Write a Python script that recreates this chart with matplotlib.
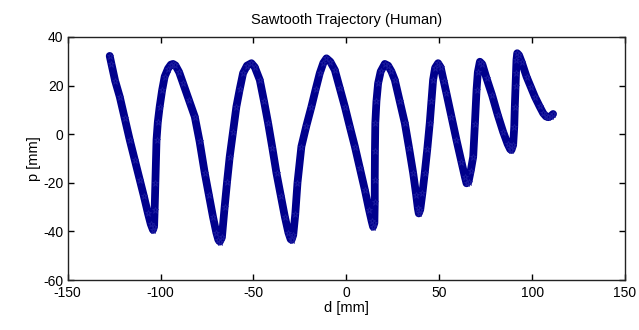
import numpy as np
import matplotlib.pyplot as plt

# 轨迹数据：横向位移 d 与纵向位置 p（单位 mm），按采样顺序排列
d_mm = [
    -127.4, -126.5, -124.5, -122.0, -119.3, -116.6, -113.9, -111.2, -109.0,
    -106.8, -105.3, -104.1, -103.5,
    -103.2, -102.8, -102.2, -101.5, -100.5, -99.2, -97.8, -96.0, -94.5,
    -93.3, -92.0, -90.0,
    -87.9, -84.8, -81.6, -79.0, -76.2, -74.0, -71.8, -70.0, -68.9, -68.1,
    -67.0,
    -65.5, -64.2, -62.8, -61.0, -59.2, -57.4, -55.6, -53.5, -51.1, -49.3,
    -46.6,
    -44.3, -42.1, -39.8, -37.6, -35.3, -33.1, -31.2, -30.0, -29.5, -28.6,
    -27.5, -26.3, -24.2, -21.5, -18.8, -16.5, -14.3, -12.4, -10.7, -8.6,
    -6.2,
    -3.5, -0.8, 1.9, 4.6, 7.3, 10.0, 12.2, 13.6, 14.4, 15.1,
    15.3, 15.3, 15.4, 15.6, 16.2, 17.1, 18.5, 20.7, 22.5, 24.3, 26.1,
    28.8, 31.5, 33.8, 36.0, 37.6, 38.5, 39.0, 39.8,
    41.0, 42.2, 43.6, 44.9, 45.8, 46.7, 47.8, 49.4, 50.8, 52.4,
    53.9, 56.6, 59.3, 62.0, 63.8, 64.7, 65.8,
    67.0, 68.3, 69.2, 70.1, 70.8, 71.9, 73.2, 75.5,
    78.5, 81.5, 84.4, 86.8, 88.2, 88.9, 89.8,
    90.4, 90.7, 91.1, 91.3, 91.6, 92.0, 93.0, 94.5,
    97.0, 99.3, 101.5, 104.0, 106.0, 107.5, 108.7, 110.0, 111.3,
]
p_mm = [
    32.2, 29.0, 22.0, 15.4, 6.5, -2.4, -10.6, -18.8, -25.5,
    -32.6, -37.0, -39.4, -38.0,
    -31.0, -20.0, -2.4, 5.0, 11.3, 18.0, 23.7, 27.0, 28.6,
    28.9, 28.3, 25.5,
    20.9, 14.0, 7.2, -3.0, -16.1, -25.0, -34.0, -40.5, -43.5, -44.2,
    -42.5,
    -29.8, -19.5, -9.3, 1.0, 11.3, 18.5, 25.1, 28.2, 29.2, 27.6,
    22.3,
    13.5, 4.5, -5.8, -16.1, -25.3, -34.0, -40.5, -43.2, -43.5, -41.5,
    -33.0, -20.0, -5.1, 3.5, 11.3, 18.5, 25.1, 29.3, 31.2, 29.8,
    26.4,
    18.8, 11.3, 3.0, -5.1, -14.0, -23.0, -31.0, -35.7, -38.1, -36.5,
    -28.0, -18.8, -7.0, 4.5, 13.5, 20.9, 25.8, 28.9, 28.2, 25.8, 22.3,
    13.5, 4.5, -5.8, -16.1, -25.0, -30.5, -32.6, -31.0,
    -24.0, -16.1, -6.0, 4.5, 13.5, 22.3, 27.3, 29.2, 27.5, 22.0,
    16.8, 7.2, -2.4, -11.5, -17.5, -20.2, -19.5,
    -15.0, -9.3, 4.0, 18.2, 25.5, 29.8, 28.8, 23.0,
    16.0, 8.0, 1.0, -4.0, -6.2, -6.5, -4.5,
    3.0, 11.3, 20.0, 25.1, 30.5, 33.3, 32.5, 29.5,
    23.7, 19.5, 15.4, 11.5, 8.6, 7.3, 7.0, 7.4, 8.3,
]

x_ticks = [-150, -100, -50, 0, 50, 100, 150]
y_ticks = [-60, -40, -20, 0, 20, 40]

plt.rcParams['font.family'] = ['Liberation Sans', 'DejaVu Sans']
plt.rcParams['font.size'] = 10
plt.rcParams['axes.unicode_minus'] = False

fig = plt.figure(figsize=(6.39, 3.30), dpi=100)
ax = fig.add_axes([0.106, 0.1515, 0.872, 0.7365])

# 粗线 + 星形标记，模拟密集采样点叠加的效果
ax.plot(d_mm, p_mm, color='#00008C', linewidth=5.6, solid_joinstyle='round',
        solid_capstyle='round', marker='*', markersize=5,
        markeredgecolor='#1c1ca0', markeredgewidth=0.6)

ax.set_xlim(-150, 150)
ax.set_ylim(-60, 40)
ax.set_xticks(x_ticks)
ax.set_yticks(y_ticks)
ax.tick_params(direction='in', top=True, right=True, length=4, width=1,
               labelsize=10)
ax.tick_params(axis='x', pad=4)
ax.tick_params(axis='y', pad=3)
for spine in ax.spines.values():
    spine.set_linewidth(1.0)
    spine.set_color('#222222')

ax.set_title('Sawtooth Trajectory (Human)', fontsize=10.5, pad=9)
ax.set_xlabel('d [mm]', fontsize=10.5, labelpad=1)
ax.set_ylabel('p [mm]', fontsize=10.5, labelpad=2)

fig.savefig('out.png', dpi=100)
